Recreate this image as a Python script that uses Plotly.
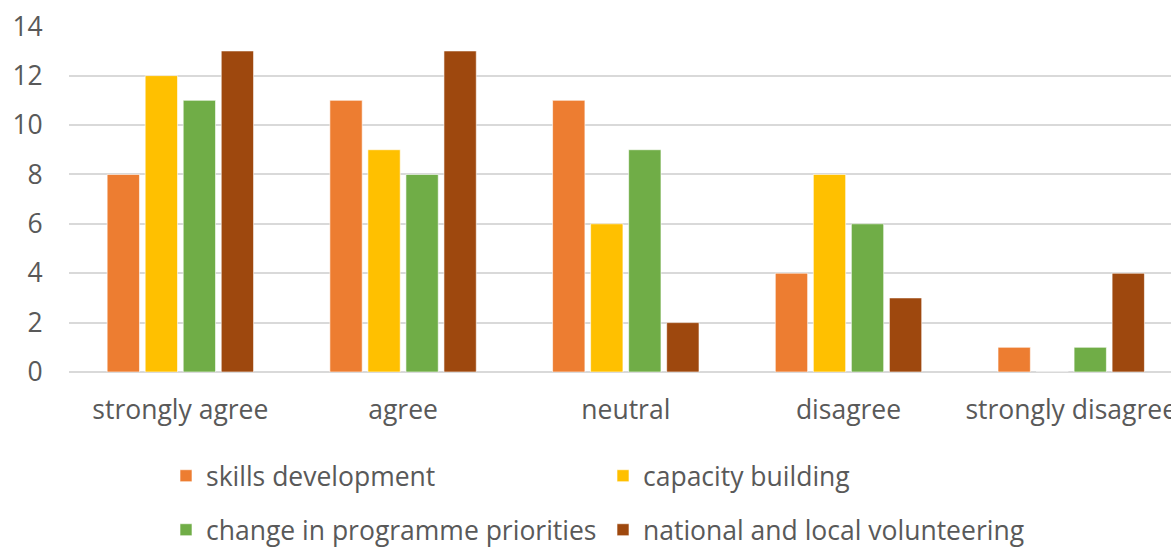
import plotly.graph_objects as go

categories = ["strongly agree", "agree", "neutral", "disagree", "strongly disagree"]
skills_development = [8, 11, 11, 4, 1]
capacity_building = [12, 9, 6, 8, 0]
programme_priorities = [11, 8, 9, 6, 1]
volunteering = [13, 13, 2, 3, 4]
y_ticks = [0, 2, 4, 6, 8, 10, 12, 14]

series = [
    ("skills development", skills_development, "#ED7D31", "legend"),
    ("capacity building", capacity_building, "#FFC000", "legend"),
    ("change in programme priorities", programme_priorities, "#70AD47", "legend2"),
    ("national and local volunteering", volunteering, "#9E480E", "legend2"),
]

FONT = "Open Sans"
FS = 26.5
GREY = "#595959"
H = 548

fig = go.Figure()
for name, vals, color, lg in series:
    fig.add_trace(go.Bar(
        x=categories, y=vals, name=name,
        marker=dict(color=color, line=dict(color="rgba(255,255,255,0.6)", width=1)),
        legend=lg,
    ))

legend_common = dict(
    orientation="h", xref="container", yref="container",
    x=166 / 1171, xanchor="left", yanchor="middle",
    font=dict(family=FONT, size=FS, color=GREY),
    entrywidth=392, entrywidthmode="pixels",
    bgcolor="rgba(0,0,0,0)", itemclick=False,
)

fig.update_layout(
    width=1171, height=H,
    margin=dict(l=69, r=0, t=26, b=176),
    paper_bgcolor="white", plot_bgcolor="white",
    barmode="group", bargap=0.317, bargroupgap=0.15,
    font=dict(family=FONT, size=FS, color=GREY),
    legend=dict(legend_common, y=1 - 476 / H),
    legend2=dict(legend_common, y=1 - 530 / H),
    xaxis=dict(
        range=[-0.5, 4.448], showgrid=False, showline=False, zeroline=False,
        ticks="outside", ticklen=14, tickcolor="rgba(0,0,0,0)",
        tickfont=dict(family=FONT, size=FS, color=GREY), automargin=False,
    ),
    yaxis=dict(
        range=[0, 14.01], tickvals=y_ticks, showgrid=True, gridcolor="#D9D9D9", gridwidth=1.5,
        zeroline=True, zerolinecolor="#D9D9D9", zerolinewidth=1.5, showline=False,
        ticks="outside", ticklen=20, tickcolor="rgba(0,0,0,0)",
        tickfont=dict(family=FONT, size=FS, color=GREY), automargin=False,
    ),
)

fig.write_html(
    "out.html",
    config={"displayModeBar": False},
    post_script="document.body.style.margin='0';document.body.style.overflow='hidden';",
)
